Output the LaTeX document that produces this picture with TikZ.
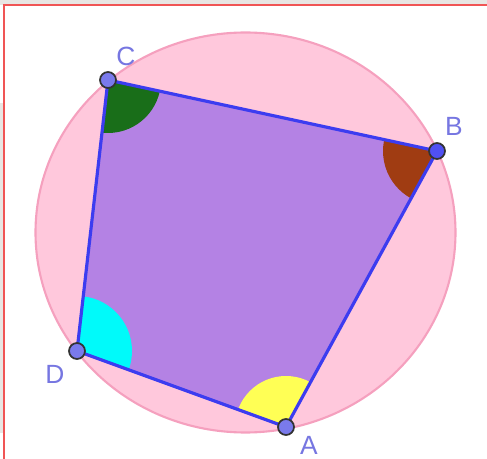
\documentclass[tikz,border=0pt]{standalone}
\usepackage{fontspec}
\setmainfont{Liberation Sans}
\definecolor{pinkfill}{RGB}{255,200,220}
\definecolor{pinkline}{RGB}{245,160,190}
\definecolor{quadfill}{RGB}{180,130,228}
\definecolor{edgeblue}{RGB}{60,60,240}
\definecolor{ptfill}{RGB}{122,122,236}
\definecolor{lblcol}{RGB}{118,118,225}
\definecolor{angC}{RGB}{25,110,25}
\definecolor{angB}{RGB}{160,60,18}
\definecolor{angD}{RGB}{0,250,250}
\definecolor{angA}{RGB}{255,255,85}
\definecolor{framegray}{RGB}{232,230,227}
\definecolor{framered}{RGB}{240,85,85}
\tikzset{
  pt/.style={circle, fill=ptfill, draw=black!80, line width=1pt, inner sep=0pt, minimum size=0.32cm},
  lbl/.style={text=lblcol, font=\fontsize{15}{18}\selectfont, inner sep=0pt}
}
\begin{document}
\begin{tikzpicture}[x=0.02cm, y=-0.02cm]
\useasboundingbox (0,0) rectangle (487,459);
% frame
\fill[framegray] (0,0) rectangle (487,5);
\fill[framegray] (0,103) rectangle (4,433);
\draw[framered, line width=1.2pt] (4,459) -- (4,5) -- (487,5);
\coordinate (O) at (245.5,232.5);
\coordinate (A) at (286,427);
\coordinate (B) at (437,151);
\coordinate (C) at (108,80);
\coordinate (D) at (77,351);
% circle
\draw[pinkline, fill=pinkfill, line width=1.2pt] (O) ellipse [x radius=210, y radius=200];
% quadrilateral
\fill[quadfill] (A) -- (B) -- (C) -- (D) -- cycle;
% angles
\begin{scope}
\clip (A) -- (B) -- (C) -- (D) -- cycle;
\fill[angC] (C) circle[radius=53];
\fill[angB] (B) circle[radius=54];
\fill[angD] (D) circle[radius=55];
\fill[angA] (A) circle[radius=51];
\end{scope}
\draw[edgeblue, line width=1.8pt, line join=round] (A) -- (B) -- (C) -- (D) -- cycle;
% points
\node[pt] (pA) at (A) {};
\node[pt, fill=edgeblue!90] (pB) at (B) {};
\node[pt] (pC) at (C) {};
\node[pt] (pD) at (D) {};
\node[lbl] at (309,445) {A};
\node[lbl] at (454,126) {B};
\node[lbl] at (126,56) {C};
\node[lbl] at (55,374) {D};
\end{tikzpicture}
\end{document}
